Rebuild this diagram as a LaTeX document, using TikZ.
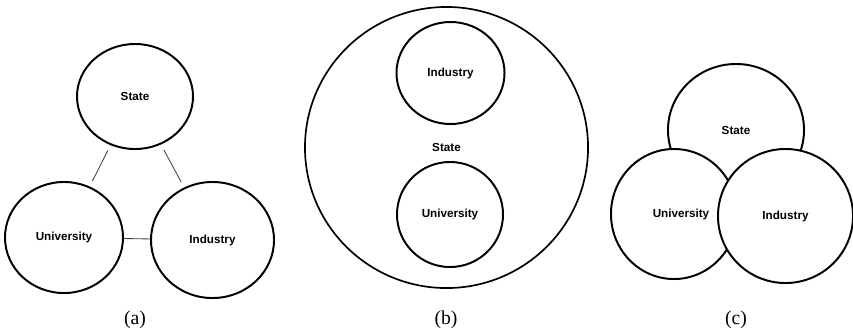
\documentclass[tikz,border=0pt]{standalone}
\usepackage{fontspec}
\setmainfont{Liberation Serif}
\setsansfont{Liberation Sans}
\usetikzlibrary{shapes.geometric}

\begin{document}
\begin{tikzpicture}[x=0.025cm,y=-0.025cm,
                sphere/.style={draw,ellipse,line width=1.4pt,fill=white,inner sep=0pt,font=\sffamily\bfseries\fontsize{8.3}{9.9}\selectfont},
                link/.style={line width=0.6pt,color=black!75,shorten >=0.15cm,shorten <=0.15cm},
                caption/.style={font=\fontsize{14}{16}\selectfont}]
                \useasboundingbox (0,0) rectangle (853,332);
                
                \node[sphere,minimum width=2.9cm,minimum height=2.625cm] (stateA) at (135,96.5) {State};
                \node[sphere,minimum width=2.95cm,minimum height=2.775cm] (univA) at (64,237.5) {University};
                \node[sphere,minimum width=3.075cm,minimum height=2.9cm] (indA) at (212.5,240) {Industry};
                \draw[link] (stateA) -- (univA);
                \draw[link] (stateA) -- (indA);
                \draw[link,shorten >=0pt,shorten <=0pt] (univA) -- (indA);
                
                \node[sphere,line width=1.2pt,minimum width=7.075cm,minimum height=7.025cm] (stateB) at (446.5,147.5) {State};
                \node[sphere,minimum width=2.7cm,minimum height=2.55cm] (indB) at (450.5,73) {Industry};
                \node[sphere,minimum width=2.65cm,minimum height=2.625cm] (univB) at (450,214.5) {University};
                
                \node[sphere,minimum width=3.4cm,minimum height=3.3cm] (stateC) at (736,130) {State};
                \node[sphere,minimum width=3.15cm,minimum height=3.25cm] (univC) at (674,214) {\hspace*{0.35cm}University};
                \node[sphere,minimum width=3.375cm,minimum height=3.35cm] (indC) at (785.5,216) {Industry};
                
                \foreach \x/\c in {135/a,446/b,736/c} \node[caption] (cap\c) at (\x,320) {(\c)};
            \end{tikzpicture}
\end{document}
